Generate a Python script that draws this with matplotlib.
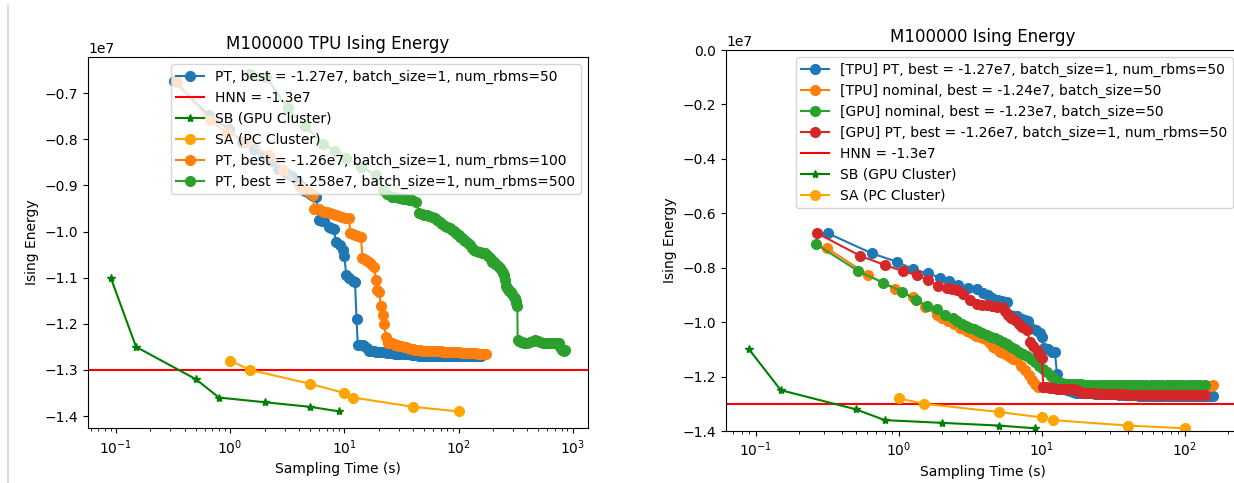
import numpy as np
import matplotlib
matplotlib.use("Agg")
import matplotlib.pyplot as plt
from matplotlib.lines import Line2D

# ---------------- data (energies in units of 1e7) ----------------
SCALE = 1e7

# SB (GPU Cluster) and SA (PC Cluster) -- shared by both panels
sb_t = [0.09, 0.15, 0.5, 0.8, 2, 5, 9]
sb_e = [-1.10, -1.25, -1.32, -1.36, -1.37, -1.38, -1.39]
sa_t = [1.0, 1.5, 5, 10, 12, 40, 100]
sa_e = [-1.28, -1.30, -1.33, -1.35, -1.36, -1.38, -1.39]
hnn_e = -1.3

# [TPU] PT, num_rbms=50 (shared by both panels)
tpu_pt_t = [0.322, 0.648, 0.97, 1.27, 1.61, 1.95, 2.26, 2.62, 3.07, 3.51,
            3.91, 4.2, 4.48, 4.98, 5.3, 5.7, 6.0, 6.35, 6.7, 7.3,
            7.66, 8.07, 8.47, 9.1, 9.7, 10.0, 10.4, 11.1, 11.8, 12.4,
            12.8, 13.1, 13.6, 14.0, 14.5, 15.0, 15.7, 16.5, 17.3, 18.2,
            19.1, 20, 21, 22, 23.5, 25, 26.5, 28, 29.5, 31,
            33, 35, 37, 39, 41, 43, 45.5, 48, 50.5, 53,
            56, 59, 62, 65, 68.5, 72, 76, 80, 84, 88,
            92.5, 97, 102, 107, 112.5, 118, 124, 130, 136.5, 143,
            150, 158]
tpu_pt_e = [-0.674, -0.747, -0.778, -0.806, -0.821, -0.837, -0.848, -0.864, -0.874, -0.880,
            -0.892, -0.902, -0.913, -0.919, -0.922, -0.925, -0.975, -0.977, -0.978, -0.990,
            -0.993, -0.995, -1.022, -1.030, -1.040, -1.054, -1.094, -1.100, -1.108, -1.109,
            -1.190, -1.245, -1.245, -1.245, -1.246, -1.248, -1.253, -1.258, -1.259, -1.260,
            -1.261, -1.262, -1.262, -1.262, -1.263, -1.263, -1.264, -1.265, -1.265, -1.265,
            -1.265, -1.266, -1.266, -1.268, -1.268, -1.268, -1.269, -1.270, -1.270, -1.270,
            -1.270, -1.270, -1.270, -1.270, -1.270, -1.270, -1.270, -1.270, -1.270, -1.270,
            -1.270, -1.270, -1.270, -1.270, -1.270, -1.270, -1.270, -1.270, -1.270, -1.270,
            -1.270, -1.270]

# PT, num_rbms=100 (left panel)
pt100_t = [0.34, 0.66, 0.93, 1.38, 2.21, 2.89, 4.05, 4.6, 5.0, 5.3,
           5.47, 5.75, 6.0, 6.35, 6.7, 7.1, 7.5, 8.0, 8.47, 9.0,
           9.5, 10.2, 11.1, 11.2, 11.9, 12.5, 13.2, 14.0, 14.4, 15.0,
           15.5, 16.5, 17.2, 18.3, 18.9, 19.5, 20.2, 20.9, 21.6, 22.3,
           23.1, 24, 25, 26, 27, 28, 29, 30, 31.5, 33,
           34.5, 36, 38, 40, 42, 44, 46, 48, 50.5, 53,
           55.5, 58, 61, 64, 67, 70, 73.5, 77, 81, 85,
           89, 93, 97.5, 102, 107, 112, 117.5, 123, 129, 135,
           141.5, 148, 155, 162, 168.5, 175]
pt100_e = [-0.675, -0.758, -0.784, -0.805, -0.834, -0.867, -0.903, -0.910, -0.916, -0.921,
           -0.950, -0.951, -0.952, -0.955, -0.957, -0.958, -0.960, -0.962, -0.964, -0.966,
           -0.968, -0.970, -0.971, -1.004, -1.006, -1.008, -1.010, -1.011, -1.058, -1.060,
           -1.061, -1.065, -1.070, -1.076, -1.105, -1.126, -1.130, -1.162, -1.180, -1.200,
           -1.229, -1.241, -1.241, -1.242, -1.243, -1.245, -1.246, -1.248, -1.249, -1.250,
           -1.251, -1.252, -1.254, -1.255, -1.256, -1.256, -1.257, -1.258, -1.258, -1.258,
           -1.259, -1.260, -1.260, -1.260, -1.260, -1.260, -1.261, -1.261, -1.262, -1.262,
           -1.262, -1.262, -1.262, -1.262, -1.263, -1.263, -1.263, -1.263, -1.263, -1.263,
           -1.264, -1.265, -1.265, -1.265, -1.265, -1.265]

# PT, num_rbms=500 (left panel)
pt500_t = [1.5, 2.07, 3.2, 4.5, 6.47, 8.3, 10.4, 14, 18.9, 21.6,
           23.5, 26.4, 28, 30.2, 32.5, 35, 37, 39.5, 42.3, 45.2,
           47.5, 50, 52.5, 55, 59, 62, 65, 68.5, 72.3, 76,
           80, 84, 88, 91, 94.4, 97, 100, 104, 108, 111.5,
           115, 120, 125, 130, 136, 142, 150, 155, 160, 166,
           172, 178, 185, 191, 197, 203, 210, 218, 226, 233,
           240, 245, 250, 254, 258, 265, 272, 279, 286, 295,
           305, 311, 318, 322, 327, 330, 340, 350, 360, 373,
           386, 400, 420, 445, 472, 495, 520, 545, 570, 593,
           617, 648, 680, 717, 755, 780, 807, 820, 835, 861]
pt500_e = [-0.658, -0.665, -0.733, -0.770, -0.809, -0.825, -0.841, -0.860, -0.877, -0.910,
           -0.918, -0.924, -0.926, -0.928, -0.929, -0.930, -0.931, -0.932, -0.935, -0.960,
           -0.962, -0.964, -0.965, -0.966, -0.968, -0.971, -0.975, -0.980, -0.984, -0.987,
           -0.990, -0.993, -0.996, -0.999, -1.002, -1.005, -1.008, -1.012, -1.015, -1.018,
           -1.020, -1.025, -1.030, -1.035, -1.040, -1.042, -1.044, -1.045, -1.046, -1.046,
           -1.047, -1.050, -1.055, -1.060, -1.065, -1.067, -1.070, -1.073, -1.076, -1.080,
           -1.085, -1.090, -1.094, -1.105, -1.119, -1.122, -1.125, -1.128, -1.130, -1.135,
           -1.141, -1.145, -1.150, -1.155, -1.162, -1.235, -1.238, -1.240, -1.240, -1.241,
           -1.242, -1.241, -1.240, -1.238, -1.235, -1.238, -1.240, -1.241, -1.242, -1.242,
           -1.242, -1.242, -1.242, -1.242, -1.242, -1.250, -1.256, -1.257, -1.258, -1.256]

# [TPU] nominal (right panel)
tpu_nom_t = [0.317, 0.614, 0.944, 1.27, 1.53, 1.85, 2.0, 2.23, 2.45, 2.69,
             2.85, 3.0, 3.16, 3.33, 3.5, 3.7, 3.9, 4.13, 4.35, 4.6,
             4.85, 5.1, 5.4, 5.7, 6.0, 6.35, 6.7, 7.2, 7.66, 8.1,
             8.53, 9.0, 9.5, 10.0, 10.5, 11.2, 12, 12.8, 13.7, 14.7,
             15.7, 16.8, 18, 19.3, 20.7, 22.2, 23.8, 25.5, 27.3, 29.3,
             31.4, 33.7, 36.1, 38.7, 41.5, 44.5, 47.7, 51.2, 54.9, 58.9,
             63.1, 67.7, 72.6, 77.8, 83.4, 89.4, 95.9, 103, 110, 118,
             127, 136, 146, 152, 158]
tpu_nom_e = [-0.729, -0.827, -0.879, -0.909, -0.944, -0.974, -0.985, -0.996, -1.008, -1.020,
             -1.026, -1.032, -1.038, -1.044, -1.050, -1.055, -1.060, -1.066, -1.078, -1.090,
             -1.100, -1.108, -1.115, -1.122, -1.128, -1.134, -1.140, -1.160, -1.176, -1.195,
             -1.213, -1.228, -1.238, -1.240, -1.240, -1.240, -1.240, -1.240, -1.240, -1.240,
             -1.240, -1.240, -1.240, -1.240, -1.240, -1.240, -1.240, -1.240, -1.240, -1.240,
             -1.240, -1.240, -1.240, -1.240, -1.240, -1.240, -1.240, -1.240, -1.240, -1.240,
             -1.240, -1.240, -1.240, -1.240, -1.240, -1.240, -1.240, -1.240, -1.240, -1.240,
             -1.238, -1.236, -1.234, -1.233, -1.232]

# [GPU] nominal (right panel)
gpu_nom_t = [0.264, 0.522, 0.78, 1.06, 1.32, 1.59, 1.87, 2.11, 2.41, 2.58,
             2.76, 2.95, 3.16, 3.38, 3.61, 3.86, 4.13, 4.42, 4.72, 5.05,
             5.4, 5.75, 6.1, 6.5, 6.95, 7.4, 7.9, 8.4, 9.0, 9.6,
             10.2, 10.9, 11.6, 12.3, 13.0, 13.8, 14.7, 15.6, 16.6, 17.7,
             18.9, 20.2, 21.6, 23, 24.6, 26.3, 28, 30, 32, 34,
             36.5, 39, 41.5, 44.5, 47.5, 50.5, 54, 58, 62, 66,
             70, 75, 80, 86, 92, 98, 105, 112, 120, 128,
             138]
gpu_nom_e = [-0.713, -0.8125, -0.855, -0.888, -0.919, -0.940, -0.950, -0.974, -0.986, -0.995,
             -1.005, -1.013, -1.020, -1.026, -1.032, -1.040, -1.048, -1.054, -1.060, -1.066,
             -1.074, -1.082, -1.090, -1.098, -1.108, -1.116, -1.126, -1.136, -1.148, -1.160,
             -1.172, -1.185, -1.198, -1.210, -1.219, -1.224, -1.227, -1.228, -1.229, -1.229,
             -1.229, -1.230, -1.230, -1.230, -1.230, -1.230, -1.230, -1.230, -1.230, -1.230,
             -1.230, -1.230, -1.230, -1.230, -1.230, -1.230, -1.230, -1.230, -1.230, -1.230,
             -1.230, -1.230, -1.230, -1.230, -1.230, -1.230, -1.230, -1.230, -1.230, -1.230,
             -1.230]

# [GPU] PT, num_rbms=50 (right panel)
gpu_pt_t = [0.267, 0.537, 0.80, 1.07, 1.34, 1.61, 1.90, 2.17, 2.35, 2.55,
            2.83, 3.16, 3.52, 3.8, 4.13, 4.5, 4.85, 5.26, 5.55, 5.85,
            6.15, 6.5, 6.9, 7.26, 7.87, 8.3, 8.75, 9.25, 9.6, 10.0,
            10.3, 10.8, 11.5, 12.1, 12.8, 13.6, 14.5, 15.5, 16.7, 17.6,
            18.5, 19.6, 20.7, 22, 23.5, 25, 26.7, 28.5, 30.5, 32.5,
            34.7, 37, 39.5, 42, 45, 48, 51.5, 55, 59, 63,
            67.5, 72, 77, 82.5, 88, 94, 100, 107, 114, 122,
            130, 138]
gpu_pt_e = [-0.672, -0.756, -0.790, -0.8125, -0.827, -0.846, -0.868, -0.874, -0.878, -0.882,
            -0.895, -0.917, -0.934, -0.936, -0.9375, -0.940, -0.944, -0.946, -0.960, -0.974,
            -0.984, -0.993, -1.005, -1.017, -1.029, -1.072, -1.088, -1.103, -1.118, -1.133,
            -1.238, -1.240, -1.242, -1.243, -1.244, -1.244, -1.244, -1.244, -1.244, -1.250,
            -1.255, -1.259, -1.262, -1.262, -1.262, -1.263, -1.263, -1.264, -1.264, -1.265,
            -1.265, -1.265, -1.266, -1.266, -1.266, -1.267, -1.267, -1.267, -1.267, -1.268,
            -1.268, -1.268, -1.268, -1.268, -1.268, -1.268, -1.268, -1.268, -1.268, -1.268,
            -1.268, -1.268]


def e(vals):
    return np.asarray(vals) * SCALE


MS = 7
W, H = 1234, 483
fig = plt.figure(figsize=(W / 100, H / 100), dpi=100)

# ---------------- left panel ----------------
axL = fig.add_axes([88 / W, 1 - 428.3 / H, 500 / W, (428.3 - 57) / H])
axL.plot(tpu_pt_t, e(tpu_pt_e), "o-", color="C0", ms=MS,
         label="PT, best = -1.27e7, batch_size=1, num_rbms=50")
axL.axhline(hnn_e * SCALE, color="red", label="HNN = -1.3e7")
axL.plot(sb_t, e(sb_e), "*-", color="green", label="SB (GPU Cluster)")
axL.plot(sa_t, e(sa_e), "o-", color="orange", ms=MS, label="SA (PC Cluster)")
axL.plot(pt100_t, e(pt100_e), "o-", color="C1", ms=MS,
         label="PT, best = -1.26e7, batch_size=1, num_rbms=100")
axL.plot(pt500_t, e(pt500_e), "o-", color="C2", ms=MS,
         label="PT, best = -1.258e7, batch_size=1, num_rbms=500")
axL.set_xscale("log")
axL.set_title("M100000 TPU Ising Energy")
axL.set_xlabel("Sampling Time (s)")
axL.set_ylabel("Ising Energy")
axL.legend(loc="upper right")

# ---------------- right panel ----------------
axR = fig.add_axes([726 / W, 1 - 431 / H, 514 / W, (431 - 50) / H])
axR.plot(tpu_pt_t, e(tpu_pt_e), "o-", color="C0", ms=MS,
         label="[TPU] PT, best = -1.27e7, batch_size=1, num_rbms=50")
axR.plot(tpu_nom_t, e(tpu_nom_e), "o-", color="C1", ms=MS,
         label="[TPU] nominal, best = -1.24e7, batch_size=50")
axR.plot(gpu_nom_t, e(gpu_nom_e), "o-", color="C2", ms=MS,
         label="[GPU] nominal, best = -1.23e7, batch_size=50")
axR.plot(gpu_pt_t, e(gpu_pt_e), "o-", color="C3", ms=MS,
         label="[GPU] PT, best = -1.26e7, batch_size=1, num_rbms=50")
axR.axhline(hnn_e * SCALE, color="red", label="HNN = -1.3e7")
axR.plot(sb_t, e(sb_e), "*-", color="green", label="SB (GPU Cluster)")
axR.plot(sa_t, e(sa_e), "o-", color="orange", ms=MS, label="SA (PC Cluster)")
axR.set_xscale("log")
axR.set_xlim(10 ** -1.207, 10 ** (-1.207 + 514 / 143))
axR.set_ylim(-1.4e7, 0)
axR.set_title("M100000 Ising Energy")
axR.set_xlabel("Sampling Time (s)")
axR.set_ylabel("Ising Energy")
axR.legend(loc="upper right")

# screenshot border line at the far left
fig.add_artist(Line2D([8 / W, 8 / W], [0, 1 - 5 / H], color="#d8d8d8", lw=1.2))

fig.savefig("out.png", dpi=100)
